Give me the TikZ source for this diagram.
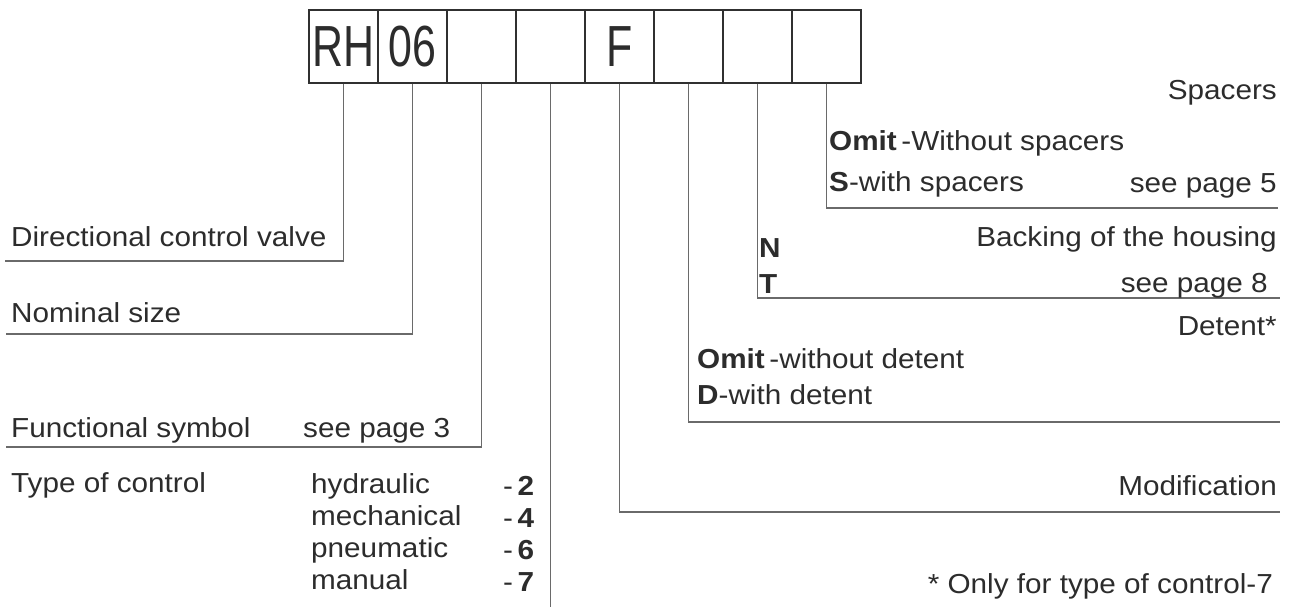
\documentclass[tikz,border=0pt]{standalone}
\usepackage{fontspec}
\setmainfont{Liberation Sans}[FakeStretch=1.08]
\newfontface\codefont{Liberation Sans}[FakeStretch=0.74]
\definecolor{ink}{HTML}{2C2C2C}
\definecolor{leadgray}{HTML}{6A6A6A}
\definecolor{boxgray}{HTML}{303030}
\begin{document}
\begin{tikzpicture}[x=1pt,y=-1pt,
  codebox/.style={draw=boxgray,line width=1.7pt,minimum width=69pt,minimum height=73pt,
    inner sep=0pt,anchor=north west,text=ink,
    font=\codefont\fontsize{58}{58}\selectfont},
  lbl/.style={inner sep=0pt,text=ink,font=\fontsize{27.5}{27.5}\selectfont},
  leader/.style={draw=leadgray,line width=1.3pt}]
\useasboundingbox (0,0) rectangle (1293,607);

% ordering code boxes
\node[codebox] (b1) at (308,9) {RH};
\node[codebox] (b2) at (377,9) {06};
\node[codebox] (b3) at (446,9) {};
\node[codebox] (b4) at (515,9) {};
\node[codebox] (b5) at (584,9) {F};
\node[codebox] (b6) at (653,9) {};
\node[codebox] (b7) at (722,9) {};
\node[codebox] (b8) at (791,9) {};

% free ends of the leader lines
\coordinate (e1) at (5,261);
\coordinate (e2) at (6,334);
\coordinate (e3) at (6,447);
\coordinate (e4) at (0,607);
\coordinate (e5) at (1280,512);
\coordinate (e6) at (1280,422);
\coordinate (e7) at (1280,298);
\coordinate (e8) at (1278,208);

\draw[leader] (b1.south) |- (e1);
\draw[leader] (b2.south) |- (e2);
\draw[leader] (b3.south) |- (e3);
\draw[leader] (b4.south) -- (b4.south |- e4);
\draw[leader] (b5.south) |- (e5);
\draw[leader] (b6.south) |- (e6);
\draw[leader] (b7.south) |- (e7);
\draw[leader] (b8.south) |- (e8);

% left-hand labels
\node[lbl,anchor=base west] (t1) at (11,246) {Directional control valve};
\node[lbl,anchor=base west] (t2) at (11,322) {Nominal size};
\node[lbl,anchor=base west] (t3) at (11,437) {Functional symbol};
\node[lbl,anchor=base west] (t3p) at (303,437) {see page 3};
\node[lbl,anchor=base west] (t4) at (11,492) {Type of control};
\node[lbl,anchor=base west] (c2) at (311,493) {hydraulic};
\node[lbl,anchor=base west] (c4) at (311,525) {mechanical};
\node[lbl,anchor=base west] (c6) at (311,557) {pneumatic};
\node[lbl,anchor=base west] (c7) at (311,589) {manual};
\node[lbl,anchor=base west] (d2) at (503,495) {-\,\textbf{2}};
\node[lbl,anchor=base west] (d4) at (503,527) {-\,\textbf{4}};
\node[lbl,anchor=base west] (d6) at (503,559) {-\,\textbf{6}};
\node[lbl,anchor=base west] (d7) at (503,591) {-\,\textbf{7}};

% right-hand labels
\node[lbl,anchor=base east] (t8) at (1277,100) {Spacers};
\node[lbl,anchor=base west] (t8a) at (829,150) {\textbf{Omit}\,-Without spacers};
\node[lbl,anchor=base west] (t8b) at (829,191) {\textbf{S}-with spacers};
\node[lbl,anchor=base east] (t8p) at (1277,193) {see page 5};
\node[lbl,anchor=base east] (t7) at (1277,246) {Backing of the housing};
\node[lbl,anchor=base west] (t7n) at (759,257) {\textbf{N}};
\node[lbl,anchor=base west] (t7t) at (759,293) {\textbf{T}};
\node[lbl,anchor=base east] (t7p) at (1268,292) {see page 8};
\node[lbl,anchor=base east] (t6) at (1277,335) {Detent*};
\node[lbl,anchor=base west] (t6a) at (697,368) {\textbf{Omit}\,-without detent};
\node[lbl,anchor=base west] (t6b) at (697,404) {\textbf{D}-with detent};
\node[lbl,anchor=base east] (t5) at (1277,495) {Modification};
\node[lbl,anchor=base east] (fn) at (1273,593) {* Only for type of control-7};
\end{tikzpicture}
\end{document}
